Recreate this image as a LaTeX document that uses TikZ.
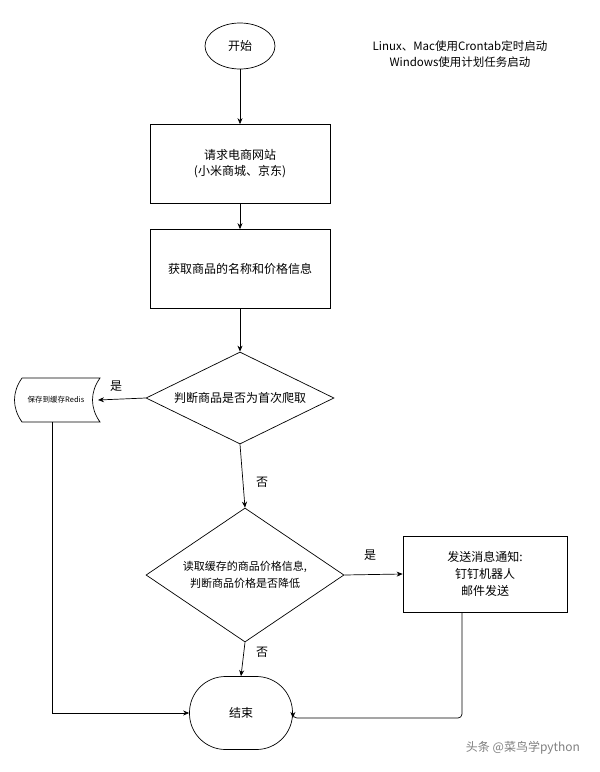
\documentclass[tikz,border=0pt]{standalone}
\usepackage{fontspec}
\setmainfont{Noto Sans CJK SC}
\usetikzlibrary{shapes.geometric,arrows.meta}
\begin{document}
\begin{tikzpicture}[x=1pt,y=-1pt,
  box/.style={draw,line width=0.7pt,minimum width=180pt,minimum height=79pt,align=center,font=\fontsize{12}{16}\selectfont},
  dia/.style={draw,line width=0.7pt,diamond,aspect=2,inner sep=0pt,align=center,font=\fontsize{12}{16}\selectfont},
  arr/.style={line width=0.7pt,-{Stealth[length=6pt,width=5pt]}},
  lbl/.style={font=\fontsize{12}{14}\selectfont}]
\useasboundingbox[fill=white] (0,0) rectangle (600,772);
\node[draw,line width=0.7pt,ellipse,minimum width=70pt,minimum height=46pt,font=\fontsize{12}{14}\selectfont] (start) at (240,46) {开始};
\node[align=center,font=\fontsize{11.5}{16}\selectfont] (note) at (460,54) {Linux、Mac使用Crontab定时启动\\Windows使用计划任务启动};
\node[box] (r1) at (240,164) {请求电商网站\\(小米商城、京东)};
\node[box] (r2) at (240,269) {获取商品的名称和价格信息};
\node[dia,minimum width=188pt,minimum height=92pt] (d1) at (240,398) {判断商品是否为首次爬取};
\node[dia,minimum width=198pt,minimum height=134pt,font=\fontsize{11}{17}\selectfont] (d2) at (245,575) {读取缓存的商品价格信息,\\判断商品价格是否降低};
\node[box,minimum width=164pt,minimum height=76pt,font=\fontsize{12}{17}\selectfont] (r3) at (485,574) {发送消息通知:\\钉钉机器人\\邮件发送};
\node[draw,line width=0.7pt,rounded corners=36pt,minimum width=103pt,minimum height=73pt,font=\fontsize{12}{14}\selectfont] (end) at (241,713) {结束};
\draw[line width=0.7pt] (22,378) -- (100,378) .. controls (90,392) and (90,408) .. (100,422) -- (22,422) .. controls (12,408) and (12,392) .. (22,378) -- cycle;
\node[font=\fontsize{7.5}{9}\selectfont] (st) at (56,400) {保存到缓存Redis};
\coordinate (stR) at (98,400);
\coordinate (stB) at (52,422);
\draw[arr] (start) -- (r1);
\draw[arr] (r1) -- (r2);
\draw[arr] (r2) -- (d1);
\draw[arr] (d1.west) -- (stR);
\draw[arr] (d1.south) -- (d2.north);
\draw[arr] (d2.east) -- (r3.west);
\draw[arr] (d2.south) -- (end.north);
\draw[arr] (stB) |- (end.west);
\coordinate (r3b) at (462,612);
\draw[arr,rounded corners=4pt] (r3b) |- (end.east |- 0,718) -- (end.east |- 0,718);
\node[lbl] (y1) at (116,386) {是};
\node[lbl] (n1) at (262,482) {否};
\node[lbl] (y2) at (370,555) {是};
\node[lbl] (n2) at (262,652) {否};
\node[text=gray,font=\fontsize{12}{14}\selectfont] (wm) at (523,748) {头条 @菜鸟学python};
\end{tikzpicture}
\end{document}
